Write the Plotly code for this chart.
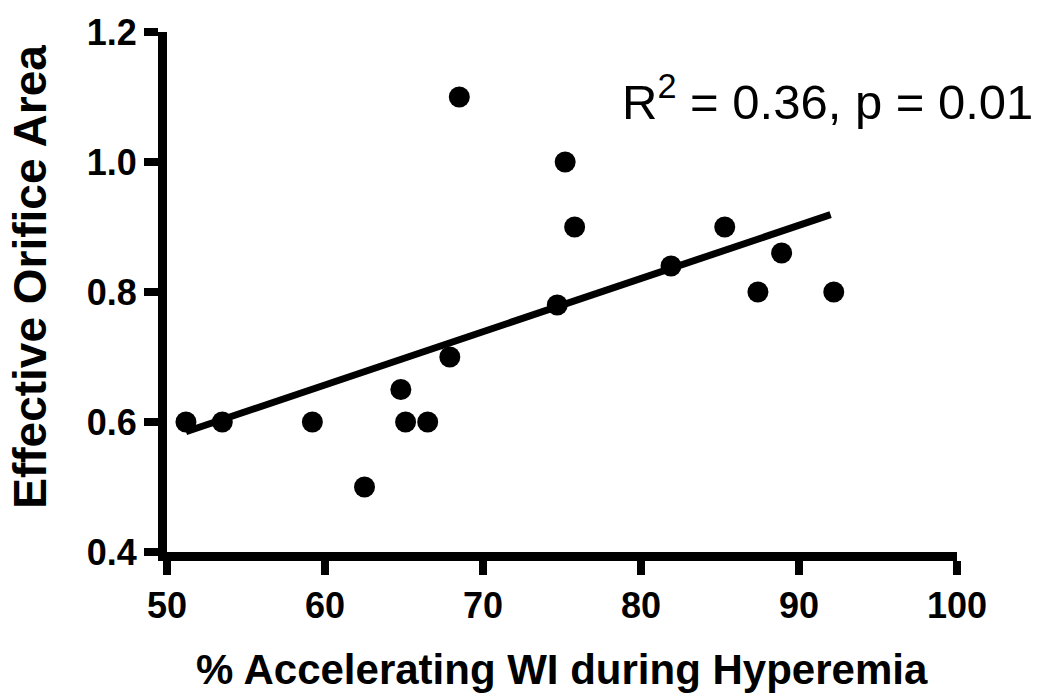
import plotly.graph_objects as go

# Data
pct_accelerating_wi = [51.2, 53.5, 59.2, 62.5, 64.8, 65.1, 66.5, 67.9, 68.5,
                       74.7, 75.2, 75.8, 81.9, 85.3, 87.4, 88.9, 92.2]
effective_orifice_area = [0.60, 0.60, 0.60, 0.50, 0.65, 0.60, 0.60, 0.70, 1.10,
                          0.78, 1.00, 0.90, 0.84, 0.90, 0.80, 0.86, 0.80]

# Regression line end points
fit_x = [51.2, 92.0]
fit_y = [0.585, 0.919]

x_ticks = [50, 60, 70, 80, 90, 100]
y_ticks = [0.4, 0.6, 0.8, 1.0, 1.2]
y_tick_labels = ["0.4", "0.6", "0.8", "1.0", "1.2"]

annotation_text = "R<sup>2</sup> = 0.36, p = 0.01"
x_title = "% Accelerating WI during Hyperemia"
y_title = "Effective Orifice Area"

FONT = "Liberation Sans, Arial, sans-serif"

fig = go.Figure()
fig.add_trace(go.Scatter(
    x=fit_x, y=fit_y, mode="lines",
    line=dict(color="black", width=7),
    hoverinfo="skip", showlegend=False,
))
fig.add_trace(go.Scatter(
    x=pct_accelerating_wi, y=effective_orifice_area, mode="markers",
    marker=dict(color="black", size=21, line=dict(width=0)),
    showlegend=False, cliponaxis=False,
))

axis_common = dict(
    showgrid=False, zeroline=False, showline=True, linecolor="black",
    linewidth=9, ticks="outside", ticklen=14, tickwidth=8, tickcolor="black",
    tickfont=dict(family=FONT, size=36, color="black", weight="bold"),
)
fig.update_xaxes(range=[50, 100], tickvals=x_ticks,
                 ticktext=[str(v) for v in x_ticks], **axis_common)
fig.update_yaxes(range=[0.4, 1.2], tickvals=y_ticks,
                 ticktext=y_tick_labels, **axis_common)

fig.update_layout(
    width=1045, height=696,
    margin=dict(l=167, r=88, t=25, b=144),
    plot_bgcolor="white", paper_bgcolor="white",
    font=dict(family=FONT, color="black"),
    annotations=[
        dict(text=annotation_text, xref="paper", yref="paper",
             x=1.0987, y=0.873, xanchor="right", yanchor="middle",
             showarrow=False, font=dict(family=FONT, size=49, color="black")),
        dict(text=x_title, xref="paper", yref="paper",
             x=0.5, y=-0.225, xanchor="center", yanchor="middle",
             showarrow=False,
             font=dict(family=FONT, size=42, color="black", weight="bold")),
        dict(text=y_title, xref="paper", yref="paper", textangle=-90,
             x=-0.173, y=0.53, xanchor="center", yanchor="middle",
             showarrow=False,
             font=dict(family=FONT, size=46, color="black", weight="bold")),
    ],
)

fig.write_html("out.html")
